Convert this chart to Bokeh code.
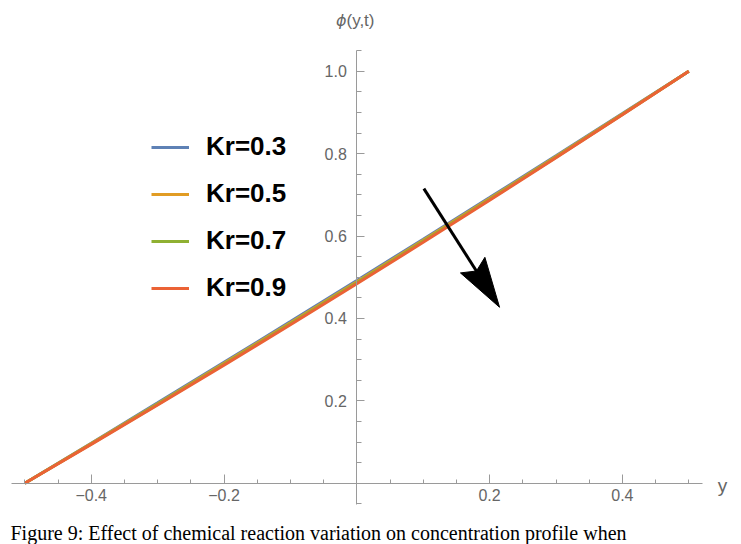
import math
from bokeh.plotting import figure
from bokeh.models import Range1d, FixedTicker, Label, Legend, LegendItem, LinearAxis
from bokeh.embed import file_html
from bokeh.resources import INLINE

# ---------------- data ----------------
y_vals = [-0.5, -0.4, -0.3, -0.2, -0.1, 0.0, 0.1, 0.2, 0.3, 0.4, 0.5]
phi_kr03 = [0.0, 0.0971, 0.1949, 0.2933, 0.3923, 0.4920, 0.5923, 0.6933, 0.7949, 0.8971, 1.0]
phi_kr05 = [0.0, 0.0960, 0.1930, 0.2908, 0.3894, 0.4890, 0.5894, 0.6908, 0.7930, 0.8960, 1.0]
phi_kr07 = [0.0, 0.0951, 0.1914, 0.2887, 0.3870, 0.4865, 0.5870, 0.6887, 0.7914, 0.8951, 1.0]
phi_kr09 = [0.0, 0.0942, 0.1898, 0.2866, 0.3846, 0.4840, 0.5846, 0.6866, 0.7898, 0.8942, 1.0]
series = [phi_kr03, phi_kr05, phi_kr07, phi_kr09]
kr_labels = ["Kr=0.3", "Kr=0.5", "Kr=0.7", "Kr=0.9"]
colors = ["#5E81B5", "#E19C24", "#8FB032", "#EB6235"]

x_major_ticks = [-0.4, -0.2, 0.2, 0.4]
x_tick_labels = ["\u22120.4", "\u22120.2", "0.2", "0.4"]
x_minor_ticks = [-0.5, -0.45, -0.35, -0.3, -0.25, -0.15, -0.1, -0.05,
                 0.05, 0.1, 0.15, 0.25, 0.3, 0.35, 0.45, 0.5]
y_major_ticks = [0.2, 0.4, 0.6, 0.8, 1.0]
y_tick_labels = ["0.2", "0.4", "0.6", "0.8", "1.0"]
y_minor_ticks = [-0.05, 0.05, 0.1, 0.15, 0.25, 0.3, 0.35, 0.45, 0.5, 0.55,
                 0.65, 0.7, 0.75, 0.85, 0.9, 0.95, 1.05]

arrow_start = (0.101, 0.715)
arrow_end = (0.215, 0.427)

x_axis_label = "y"
y_axis_symbol = "\u03d5"
y_axis_args = "(y,t)"
caption = "Figure 9: Effect of chemical reaction variation on concentration profile when"

# ---------------- layout ----------------
W, H = 741, 544
X0_PX, X_SCALE = 356.3, 664.0   # canvas px of x=0, px per unit
Y0_PX, Y_SCALE = 482.7, 412.0   # canvas px of y=0, px per unit

x_range = Range1d(-X0_PX / X_SCALE, (W - X0_PX) / X_SCALE)
y_range = Range1d((Y0_PX - H) / Y_SCALE, Y0_PX / Y_SCALE)

p = figure(width=W, height=H, x_range=x_range, y_range=y_range,
           output_backend="svg", toolbar_location=None,
           min_border=0, min_border_left=0, min_border_right=0,
           min_border_top=0, min_border_bottom=0,
           x_axis_location=None, y_axis_location=None)
p.outline_line_color = None
p.background_fill_color = "white"
p.border_fill_color = "white"

AX_COLOR = "#9a9a9a"
LBL_COLOR = "#666666"
TICK_FONT = "Liberation Sans"

xaxis = LinearAxis(fixed_location=0,
                   ticker=FixedTicker(ticks=x_major_ticks, minor_ticks=x_minor_ticks),
                   major_label_overrides={t: l for t, l in zip(x_major_ticks, x_tick_labels)},
                   bounds=(-0.52, 0.52))
yaxis = LinearAxis(fixed_location=0,
                   ticker=FixedTicker(ticks=y_major_ticks, minor_ticks=y_minor_ticks),
                   major_label_overrides={t: l for t, l in zip(y_major_ticks, y_tick_labels)},
                   bounds=(-0.0505, 1.0505))
for ax, mj, mn in ((xaxis, 9, 4), (yaxis, 8, 5)):
    ax.axis_line_color = AX_COLOR
    ax.axis_line_width = 1
    ax.major_tick_line_color = AX_COLOR
    ax.minor_tick_line_color = AX_COLOR
    ax.major_tick_in = mj
    ax.major_tick_out = 0
    ax.minor_tick_in = mn
    ax.minor_tick_out = 0
    ax.major_label_text_color = LBL_COLOR
    ax.major_label_text_font = TICK_FONT
    ax.major_label_text_font_size = "16px"
xaxis.major_label_standoff = 6
yaxis.major_label_standoff = 10
p.add_layout(xaxis, "below")
p.add_layout(yaxis, "left")
p.xgrid.visible = False
p.ygrid.visible = False

renderers = []
for vals, col in zip(series, colors):
    r = p.line(y_vals, vals, line_color=col, line_width=3)
    renderers.append(r)

legend = Legend(items=[LegendItem(label=l, renderers=[r]) for l, r in zip(kr_labels, renderers)],
                location=(151, 241), orientation="vertical",
                padding=0, margin=0, spacing=16,
                glyph_width=38, glyph_height=20, label_standoff=17,
                label_text_font="Liberation Sans", label_text_font_size="26px",
                label_text_font_style="bold", label_text_color="black",
                border_line_color=None, background_fill_alpha=0)
p.add_layout(legend, "center")

# ---------------- arrow ----------------
sx0 = X0_PX + arrow_start[0] * X_SCALE
sy0 = Y0_PX - arrow_start[1] * Y_SCALE
sx1 = X0_PX + arrow_end[0] * X_SCALE
sy1 = Y0_PX - arrow_end[1] * Y_SCALE
L = math.hypot(sx1 - sx0, sy1 - sy0)
ux, uy = (sx1 - sx0) / L, (sy1 - sy0) / L
px_, py_ = -uy, ux
HEAD_LEN, HEAD_HALF, NOTCH = 50.0, 14.5, 43.0

def to_data(sx, sy):
    return (sx - X0_PX) / X_SCALE, (Y0_PX - sy) / Y_SCALE

tip = (sx1, sy1)
b1 = (sx1 - ux * HEAD_LEN + px_ * HEAD_HALF, sy1 - uy * HEAD_LEN + py_ * HEAD_HALF)
notch = (sx1 - ux * NOTCH, sy1 - uy * NOTCH)
b2 = (sx1 - ux * HEAD_LEN - px_ * HEAD_HALF, sy1 - uy * HEAD_LEN - py_ * HEAD_HALF)
head = [to_data(*pt) for pt in (tip, b1, notch, b2)]
shaft_end = to_data(sx1 - ux * (NOTCH - 2), sy1 - uy * (NOTCH - 2))
p.line([arrow_start[0], shaft_end[0]], [arrow_start[1], shaft_end[1]],
       line_color="black", line_width=3)
p.patch([h[0] for h in head], [h[1] for h in head], fill_color="black", line_color="black")

# ---------------- axis labels ----------------
p.add_layout(Label(x=346, y=H - 20, x_units="screen", y_units="screen",
                   text=y_axis_symbol, text_align="right", text_baseline="middle",
                   text_font="DejaVu Sans", text_font_style="italic",
                   text_font_size="16px", text_color=LBL_COLOR))
p.add_layout(Label(x=346, y=H - 20, x_units="screen", y_units="screen",
                   text=y_axis_args, text_align="left", text_baseline="middle",
                   text_font=TICK_FONT, text_font_size="17px", text_color=LBL_COLOR))
p.add_layout(Label(x=722, y=H - 485, x_units="screen", y_units="screen",
                   text=x_axis_label, text_align="center", text_baseline="middle",
                   text_font=TICK_FONT, text_font_size="19px", text_color=LBL_COLOR))

# caption (at the very bottom of the page in the reference)
p.add_layout(Label(x=10, y=1, x_units="screen", y_units="screen",
                   text=caption, text_align="left", text_baseline="bottom",
                   text_font="Liberation Serif", text_font_size="20px", text_color="black"))

open("out.html", "w").write(file_html(p, INLINE))
